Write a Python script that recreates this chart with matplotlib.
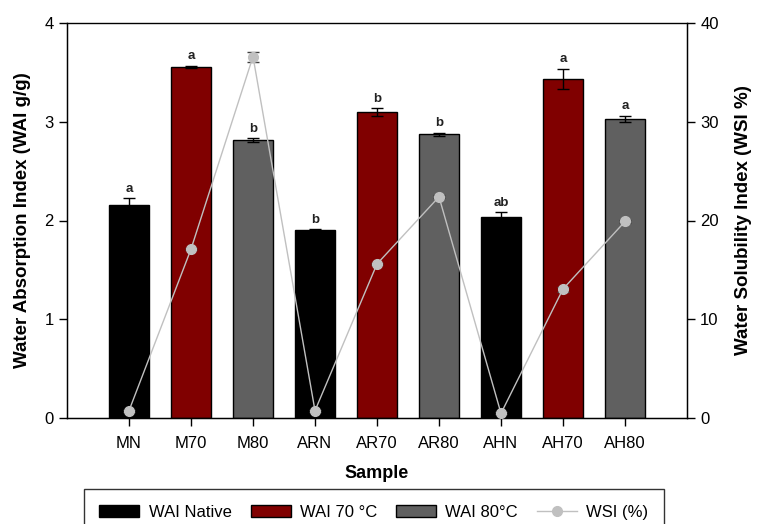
import numpy as np
import matplotlib
matplotlib.use("Agg")
import matplotlib.pyplot as plt
from matplotlib.lines import Line2D
from matplotlib.patches import Patch

plt.rcParams['font.family'] = ['Liberation Sans', 'DejaVu Sans']

samples = ["MN", "M70", "M80", "ARN", "AR70", "AR80", "AHN", "AH70", "AH80"]
groups = ["native", "70", "80", "native", "70", "80", "native", "70", "80"]
wai = [2.157, 3.557, 2.815, 1.904, 3.095, 2.873, 2.040, 3.436, 3.028]
wai_err = [0.07, 0.01, 0.02, 0.005, 0.04, 0.015, 0.045, 0.10, 0.035]
wai_letters = ["a", "a", "b", "b", "b", "b", "ab", "a", "a"]
wsi = [0.74, 17.1, 36.6, 0.74, 15.6, 22.4, 0.47, 13.06, 19.9]
wsi_err = [0.1, 0.1, 0.5, 0.1, 0.1, 0.15, 0.1, 0.25, 0.15]

colors = {"native": "#000000", "70": "#800000", "80": "#606060"}

fig = plt.figure(figsize=(7.58, 5.24), dpi=100)
ax = fig.add_axes([67 / 758, 1 - 418 / 524, 620 / 758, 395 / 524])
x = np.arange(len(samples))

ax.bar(x, wai, width=0.63, color=[colors[g] for g in groups],
       edgecolor="black", linewidth=1.0, zorder=2)
ax.errorbar(x, wai, yerr=wai_err, fmt="none", ecolor="black",
            elinewidth=1.0, capsize=4.5, capthick=1.0, zorder=3)
for xi, v, e, lab in zip(x, wai, wai_err, wai_letters):
    ax.text(xi, v + e + 0.035, lab, ha="center", va="bottom",
            fontsize=9.5, fontweight="bold", color="#222222")

ax.set_xlim(-1, 9)
ax.set_ylim(0, 4)
ax.set_yticks([0, 1, 2, 3, 4])
ax.set_xticks(x)
ax.set_xticklabels(samples)
ax.tick_params(axis="both", direction="out", length=6, width=1,
               labelsize=12, color="black")
ax.tick_params(axis="x", pad=7)
ax.set_xlabel("Sample", fontsize=13, fontweight="bold", labelpad=10)
ax.set_ylabel("Water Absorption Index (WAI g/g)", fontsize=13.5,
              fontweight="bold", labelpad=10)
for sp in ax.spines.values():
    sp.set_linewidth(1.0)
ax.spines["top"].set_color("#444444")

ax2 = ax.twinx()
ax2.set_ylim(0, 40)
ax2.set_yticks([0, 10, 20, 30, 40])
ax2.errorbar(x, wsi, yerr=wsi_err, fmt="o-", color="#c0c0c0",
             markersize=7, linewidth=1.0, ecolor="#404040",
             elinewidth=1.0, capsize=4, capthick=1.0, zorder=4)
ax2.tick_params(axis="y", direction="out", length=6, width=1, labelsize=12)
ax2.set_ylabel("Water Solubility Index (WSI %)", fontsize=13.5,
               fontweight="bold", labelpad=12)

handles = [
    Patch(facecolor=colors["native"], edgecolor="black", label="WAI Native"),
    Patch(facecolor=colors["70"], edgecolor="black", label="WAI 70 °C"),
    Patch(facecolor=colors["80"], edgecolor="black", label="WAI 80°C"),
    Line2D([0], [0], color="#c0c0c0", marker="o", markersize=7,
           linewidth=1.0, label="WSI (%)"),
]
leg = fig.legend(handles=handles, loc="upper center", ncol=4,
                 bbox_to_anchor=(374 / 758, 1 - 489 / 524), fontsize=12,
                 frameon=True, fancybox=False, handlelength=2.4,
                 handleheight=0.75, handletextpad=0.55, columnspacing=1.15,
                 borderpad=0.95, borderaxespad=0)
leg.get_frame().set_edgecolor("black")
leg.get_frame().set_linewidth(1.0)

fig.savefig("out.png", dpi=100)
